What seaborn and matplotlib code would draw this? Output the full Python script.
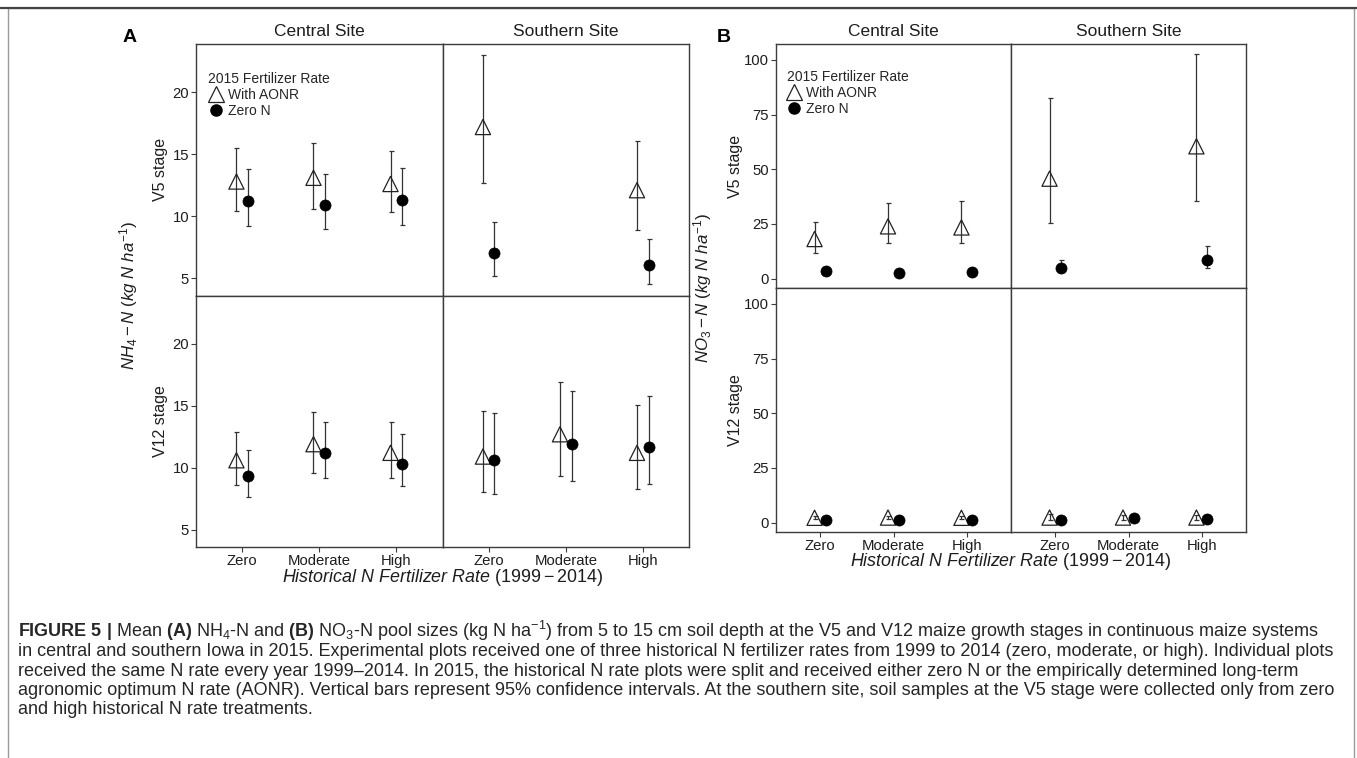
import numpy as np
import pandas as pd
import seaborn as sns
import matplotlib.pyplot as plt
from matplotlib.lines import Line2D
from matplotlib.patches import Rectangle

categories = ['Zero', 'Moderate', 'High']
sites = ['Central Site', 'Southern Site']
stages = ['V5 stage', 'V12 stage']
nan = np.nan

# order of the 12 values: Central V5 (Zero, Moderate, High), Southern V5,
# Central V12, Southern V12. Southern V5 has no Moderate sample.
# (A) NH4-N
nh4_aonr_mean = [12.8, 13.1, 12.6, 17.2, nan, 12.1, 10.6, 11.9, 11.2, 10.9, 12.7, 11.2]
nh4_aonr_lo = [10.4, 10.6, 10.3, 12.7, nan, 8.9, 8.6, 9.6, 9.2, 8.0, 9.3, 8.3]
nh4_aonr_hi = [15.5, 15.9, 15.3, 23.0, nan, 16.1, 12.9, 14.5, 13.7, 14.6, 16.9, 15.1]
nh4_zero_mean = [11.2, 10.9, 11.3, 7.0, nan, 6.1, 9.3, 11.2, 10.3, 10.6, 11.9, 11.7]
nh4_zero_lo = [9.2, 9.0, 9.3, 5.2, nan, 4.5, 7.6, 9.2, 8.5, 7.9, 8.9, 8.7]
nh4_zero_hi = [13.8, 13.4, 13.9, 9.5, nan, 8.2, 11.4, 13.7, 12.7, 14.4, 16.2, 15.8]

# (B) NO3-N
no3_aonr_mean = [18.1, 23.9, 23.4, 45.7, nan, 60.5, 2.2, 2.3, 2.2, 2.3, 2.3, 2.3]
no3_aonr_lo = [11.9, 16.1, 16.5, 25.3, nan, 35.4, 1.6, 1.7, 1.6, 1.2, 1.4, 1.4]
no3_aonr_hi = [26.0, 34.4, 35.4, 82.7, nan, 102.6, 3.0, 3.1, 3.0, 3.8, 3.6, 3.6]
no3_zero_mean = [3.5, 2.5, 3.2, 5.0, nan, 8.6, 1.0, 1.0, 1.0, 1.2, 2.0, 1.5]
no3_zero_lo = [2.6, 1.9, 2.4, 3.4, nan, 5.0, 0.7, 0.7, 0.7, 0.8, 1.5, 1.0]
no3_zero_hi = [4.5, 3.2, 4.1, 8.4, nan, 14.7, 1.3, 1.3, 1.3, 1.7, 2.6, 2.1]

nh4_ticks = [5, 10, 15, 20]
no3_ticks = [0, 25, 50, 75, 100]

caption_lines = [
    r"$\mathbf{FIGURE\ 5\ |}$ Mean $\mathbf{(A)}$ NH$_4$-N and $\mathbf{(B)}$ NO$_3$-N pool sizes (kg N ha$^{-1}$) "
    "from 5 to 15 cm soil depth at the V5 and V12 maize growth stages in continuous maize systems",
    "in central and southern Iowa in 2015. Experimental plots received one of three historical N fertilizer "
    "rates from 1999 to 2014 (zero, moderate, or high). Individual plots",
    "received the same N rate every year 1999\u20132014. In 2015, the historical N rate plots were split and "
    "received either zero N or the empirically determined long-term",
    "agronomic optimum N rate (AONR). Vertical bars represent 95% confidence intervals. At the southern site, "
    "soil samples at the V5 stage were collected only from zero",
    "and high historical N rate treatments.",
]


def long_table(aonr, aonr_lo, aonr_hi, zero, zero_lo, zero_hi):
    base = pd.DataFrame({
        'site': np.repeat(np.tile(sites, 2), 3),
        'stage': np.repeat(stages, 6),
        'cat': np.tile(categories, 4),
        'pos': np.tile([1, 2, 3], 4),
    })
    a = base.assign(treatment='With AONR', mean=aonr, lo=aonr_lo, hi=aonr_hi)
    z = base.assign(treatment='Zero N', mean=zero, lo=zero_lo, hi=zero_hi)
    return pd.concat([a, z], ignore_index=True)


nh4 = long_table(nh4_aonr_mean, nh4_aonr_lo, nh4_aonr_hi, nh4_zero_mean, nh4_zero_lo, nh4_zero_hi)
no3 = long_table(no3_aonr_mean, no3_aonr_lo, no3_aonr_hi, no3_zero_mean, no3_zero_lo, no3_zero_hi)

sns.set_theme(style='ticks')
plt.rcParams['font.family'] = ['Liberation Sans', 'DejaVu Sans']
plt.rcParams['mathtext.fontset'] = 'custom'
plt.rcParams['mathtext.rm'] = 'Liberation Sans'
plt.rcParams['mathtext.it'] = 'Liberation Sans:italic'
plt.rcParams['mathtext.bf'] = 'Liberation Sans:bold'

W, H = 1357, 758
fig = plt.figure(figsize=(W / 100, H / 100), dpi=100)
ink = '#1e1e1e'
frame = '#3c3c3c'
dodge = 0.075


def px_axes(x0, y0, x1, y1):
    return fig.add_axes([x0 / W, 1 - y1 / H, (x1 - x0) / W, (y1 - y0) / H])


def px_text(x, y, s, **kw):
    kw.setdefault('color', ink)
    return fig.text(x / W, 1 - y / H, s, **kw)


def draw_panel(df, box, ylim, yticks, ylabel, letter, lab):
    x0, y0, x1, y1 = box
    xm, ym = (x0 + x1) / 2, (y0 + y1) / 2
    for r, stage in enumerate(stages):
        for c, site in enumerate(sites):
            ax = px_axes([x0, xm][c], [y0, ym][r], [xm, x1][c], [ym, y1][r])
            sub = df[(df.site == site) & (df.stage == stage)]
            for trt, off in [('With AONR', -dodge), ('Zero N', dodge)]:
                d = sub[sub.treatment == trt].assign(x=lambda t: t.pos + off)
                ax.errorbar(d.x, d['mean'], yerr=[d['mean'] - d.lo, d.hi - d['mean']],
                            fmt='none', ecolor='#333333', elinewidth=0.9,
                            capsize=1.8, capthick=0.9, zorder=2)
                if trt == 'With AONR':
                    sns.scatterplot(data=d, x='x', y='mean', marker='^', s=120, color='black',
                                    facecolor='none', edgecolor='#222222', linewidth=0.9,
                                    ax=ax, zorder=3, legend=False)
                else:
                    sns.scatterplot(data=d, x='x', y='mean', marker='o', s=64, color='black',
                                    edgecolor='black', linewidth=0.5,
                                    ax=ax, zorder=3, legend=False)
            ax.set_xlim(0.4, 3.6)
            ax.set_ylim(*ylim)
            ax.set_xlabel('')
            ax.set_ylabel('')
            if r == 1:
                ax.set_xticks([1, 2, 3], categories)
            else:
                ax.set_xticks([])
            if c == 0:
                ax.set_yticks(yticks)
            else:
                ax.set_yticks([])
            for sp in ax.spines.values():
                sp.set_visible(True)
                sp.set_color(frame)
                sp.set_linewidth(1)
            ax.tick_params(direction='out', length=3.5, width=0.8, color=frame,
                           labelsize=10.7, labelcolor=ink, pad=1.5)
            if r == 0:
                ax.set_title(site, fontsize=12.5, pad=6, color=ink)
            if r == 0 and c == 0:
                handles = [
                    Line2D([], [], ls='none', marker='^', markersize=11, markerfacecolor='none',
                           markeredgecolor='#222222', markeredgewidth=0.9),
                    Line2D([], [], ls='none', marker='o', markersize=8, color='black'),
                ]
                ax.legend(handles, ['With AONR', 'Zero N'], title='2015 Fertilizer Rate',
                          loc='upper left', bbox_to_anchor=lab['legend'], frameon=False,
                          fontsize=10, title_fontsize=10, handlelength=1.1, handletextpad=0.3,
                          labelspacing=0.15, borderpad=0, borderaxespad=0, alignment='left')
    px_text(lab['stage_x'], (y0 + ym) / 2, stages[0], rotation=90, ha='center', va='center', fontsize=11.5)
    px_text(lab['stage_x'], (ym + y1) / 2, stages[1], rotation=90, ha='center', va='center', fontsize=11.5)
    px_text(lab['outer_x'], ym, ylabel, rotation=90, ha='center', va='center', fontsize=12.2)
    px_text(*lab['letter'], letter, fontsize=14, weight='bold', ha='center', va='center', color='black')
    px_text(xm, lab['xtitle_y'], r'$Historical\ N\ Fertilizer\ Rate\ (1999-2014)$',
            ha='center', va='center', fontsize=12.9)


draw_panel(nh4, (196, 44, 689, 547), (3.6, 23.9), nh4_ticks,
           r'$NH_4-N\ (kg\ N\ ha^{-1})$', 'A',
           {'legend': (0.05, 0.89), 'stage_x': 161, 'outer_x': 129,
            'letter': (130, 37), 'xtitle_y': 577})
draw_panel(no3, (776, 44, 1246, 532), (-4.3, 107.3), no3_ticks,
           r'$NO_3-N\ (kg\ N\ ha^{-1})$', 'B',
           {'legend': (0.045, 0.895), 'stage_x': 735, 'outer_x': 703,
            'letter': (724, 38), 'xtitle_y': 562})

# page frame and caption
fig.add_artist(Rectangle((8 / W, -0.01), (1354 - 8) / W, 1.01 - 8 / H, transform=fig.transFigure,
                         fill=False, edgecolor='#9a9a9a', linewidth=1))
fig.add_artist(Line2D([0, 1], [1 - 7.5 / H, 1 - 7.5 / H], transform=fig.transFigure,
                      color='#444444', linewidth=1.6))
for i, line in enumerate(caption_lines):
    px_text(18, 637 + i * 19.3, line, ha='left', va='baseline', fontsize=13.0, color='#262626')

fig.savefig('out.png', dpi=100)
